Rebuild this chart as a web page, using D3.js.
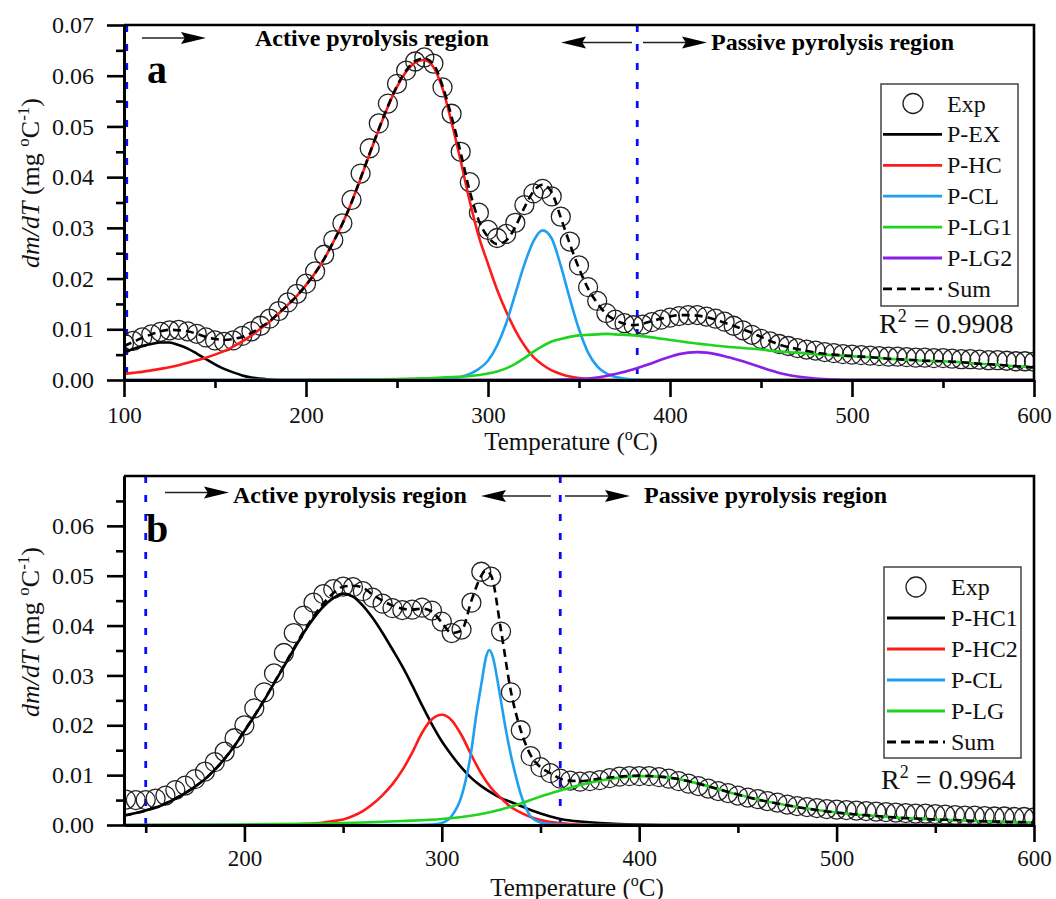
<!DOCTYPE html>
<html><head><meta charset="utf-8">
<script src="https://cdn.jsdelivr.net/npm/d3@7/dist/d3.min.js"></script>
<style>
body{margin:0;background:#fff;}
svg{display:block;font-family:"Liberation Serif","Times New Roman",serif;}
svg text{font-family:"Liberation Serif","Times New Roman",serif;}
</style></head><body>
<svg id="chart" width="1056" height="899"></svg>
<script>
// ---------------- DATA ----------------
const xTicksA = [100, 200, 300, 400, 500, 600];
const xMinorA = [150, 250, 350, 450, 550];
const xTicksB = [200, 300, 400, 500, 600];
const xMinorB = [150, 250, 350, 450, 550];
const yTicksA = [0, 0.01, 0.02, 0.03, 0.04, 0.05, 0.06, 0.07];
const yTicksB = [0, 0.01, 0.02, 0.03, 0.04, 0.05, 0.06];
const yMinor = [0.005, 0.015, 0.025, 0.035, 0.045, 0.055, 0.065];

// Panel a: experimental DTG points [T, dm/dT]
const expA = [[100,.0072],[105,.0077],[110,.0084],[115,.0090],[120,.0095],[125,.0098],[130,.0099],[135,.0096],[140,.0091],[145,.0084],[150,.0078],[155,.0075],[160,.0078],[165,.0087],[170,.0096],[175,.0107],[180,.0121],[185,.0136],[190,.0153],[195,.0170],[200,.0190],[205,.0214],[210,.0247],[215,.0276],[220,.0309],[225,.0355],[230,.0407],[235,.0457],[240,.0506],[245,.0545],[250,.0584],[255,.0610],[260,.0628],[265,.0636],[270,.0624],[275,.0577],[280,.0525],[285,.0450],[290,.0390],[295,.0330],[300,.0296],[305,.0280],[310,.0288],[315,.0310],[320,.0345],[325,.0368],[330,.0377],[335,.0362],[340,.0322],[345,.0273],[350,.0226],[355,.0183],[360,.0156],[365,.0132],[370,.0119],[375,.0112],[380,.0108],[385,.0109],[390,.0114],[395,.0119],[400,.0123],[405,.0126],[410,.0128],[415,.0128],[420,.0125],[425,.0121],[430,.0115],[435,.0107],[440,.0098],[445,.0089],[450,.0081],[455,.0076],[460,.0071],[465,.0067],[470,.0063],[475,.0060],[480,.0058],[485,.0055],[490,.0053],[495,.0051],[500,.0050],[505,.0049],[510,.0048],[515,.0047],[520,.0046],[525,.0046],[530,.0045],[535,.0044],[540,.0044],[545,.0043],[550,.0043],[555,.0042],[560,.0041],[565,.0041],[570,.0040],[575,.0039],[580,.0039],[585,.0038],[590,.0037],[595,.0037],[600,.0036]];
const pexA = [[100,.0055],[105,.0061],[110,.0067],[115,.0071],[120,.0074],[125,.0074],[130,.0069],[135,.0062],[140,.0052],[145,.0041],[150,.0031],[155,.0022],[160,.0015],[165,.0009],[170,.0005],[175,.0003],[180,.0001],[190,0],[300,0],[400,0],[500,0],[600,0]];
const phcA = [[100,.0012],[105,.0014],[110,.0016],[115,.0019],[120,.0022],[125,.0025],[130,.0029],[135,.0034],[140,.0039],[145,.0044],[150,.0050],[155,.0057],[160,.0066],[165,.0076],[170,.0088],[175,.0101],[180,.0115],[185,.0131],[190,.0148],[195,.0166],[200,.0187],[205,.0211],[210,.0239],[215,.0272],[220,.0308],[225,.0350],[230,.0397],[235,.0446],[240,.0494],[245,.0539],[250,.0578],[255,.0608],[260,.0626],[265,.0631],[270,.0617],[275,.0575],[280,.0508],[285,.0432],[290,.0352],[295,.0282],[300,.0229],[305,.0178],[310,.0135],[315,.0098],[320,.0068],[325,.0045],[330,.0030],[335,.0019],[340,.0012],[345,.0007],[350,.0004],[355,.0002],[360,.0001],[370,0],[450,0],[600,0]];
const pclA = [[100,0],[260,0],[270,.0001],[280,.0003],[285,.0006],[290,.0012],[295,.0022],[300,.0038],[305,.0068],[310,.0112],[315,.0170],[320,.0228],[325,.0274],[330,.0295],[335,.0279],[340,.0225],[345,.0160],[350,.0100],[355,.0054],[360,.0027],[365,.0013],[370,.0006],[375,.0003],[380,.0001],[390,0],[500,0],[600,0]];
const plg1A = [[100,0],[200,0],[230,.0001],[250,.0002],[260,.0003],[270,.0004],[280,.0006],[290,.0008],[300,.0013],[305,.0017],[310,.0023],[315,.0032],[320,.0043],[325,.0056],[330,.0067],[335,.0076],[340,.0081],[345,.0085],[350,.0088],[355,.0089],[360,.0090],[365,.0091],[370,.0090],[380,.0088],[390,.0084],[400,.0079],[410,.0074],[420,.0070],[430,.0066],[440,.0063],[450,.0060],[460,.0056],[470,.0054],[480,.0051],[490,.0049],[500,.0047],[510,.0045],[520,.0042],[530,.0040],[540,.0038],[550,.0037],[560,.0035],[570,.0032],[580,.0030],[590,.0027],[600,.0025]];
const plg2A = [[100,0],[330,0],[340,.0001],[350,.0002],[355,.0003],[360,.0005],[365,.0008],[370,.0012],[375,.0016],[380,.0021],[385,.0027],[390,.0033],[395,.0040],[400,.0046],[405,.0051],[410,.0054],[415,.0055],[420,.0054],[425,.0051],[430,.0047],[435,.0042],[440,.0037],[445,.0031],[450,.0025],[455,.0019],[460,.0014],[465,.0010],[470,.0007],[480,.0003],[490,.0001],[500,0],[600,0]];
const sumA = [[100,.0067],[105,.0075],[110,.0083],[115,.0090],[120,.0096],[125,.0099],[130,.0098],[135,.0096],[140,.0091],[145,.0085],[150,.0081],[155,.0079],[160,.0081],[165,.0085],[170,.0093],[175,.0104],[180,.0116],[185,.0132],[190,.0148],[195,.0166],[200,.0187],[205,.0211],[210,.0239],[215,.0272],[220,.0308],[225,.0350],[230,.0398],[235,.0447],[240,.0495],[245,.0540],[250,.0580],[255,.0610],[260,.0629],[265,.0634],[270,.0623],[275,.0580],[280,.0519],[285,.0448],[290,.0372],[295,.0314],[300,.0282],[305,.0268],[310,.0275],[315,.0302],[320,.0340],[325,.0372],[330,.0385],[335,.0370],[340,.0320],[345,.0268],[350,.0220],[355,.0180],[360,.0152],[365,.0130],[370,.0118],[375,.0111],[380,.0108],[385,.0111],[390,.0116],[395,.0121],[400,.0125],[405,.0128],[410,.0128],[415,.0127],[420,.0124],[425,.0119],[430,.0113],[435,.0107],[440,.0100],[445,.0093],[450,.0085],[455,.0077],[460,.0070],[465,.0065],[470,.0061],[480,.0054],[490,.0050],[500,.0047],[510,.0045],[520,.0042],[530,.0040],[540,.0038],[550,.0037],[560,.0035],[570,.0032],[580,.0030],[590,.0027],[600,.0025]];

// Panel b
const expB = [[140,.0051],[145,.0050],[150,.0050],[155,.0053],[160,.0059],[165,.0070],[170,.0079],[175,.0092],[180,.0107],[185,.0126],[190,.0147],[195,.0174],[200,.0200],[205,.0234],[210,.0266],[215,.0304],[220,.0345],[225,.0385],[230,.0420],[235,.0446],[240,.0463],[245,.0473],[250,.0478],[255,.0477],[260,.0469],[265,.0456],[270,.0444],[275,.0435],[280,.0431],[285,.0432],[290,.0436],[295,.0430],[300,.0408],[305,.0385],[310,.0392],[315,.0446],[320,.0508],[325,.0498],[330,.0388],[335,.0266],[340,.0190],[345,.0138],[350,.0116],[355,.0104],[360,.0093],[365,.0089],[370,.0087],[375,.0088],[380,.0090],[385,.0094],[390,.0097],[395,.0098],[400,.0098],[405,.0098],[410,.0096],[415,.0093],[420,.0088],[425,.0083],[430,.0078],[435,.0073],[440,.0068],[445,.0064],[450,.0059],[455,.0055],[460,.0052],[465,.0048],[470,.0045],[475,.0041],[480,.0038],[485,.0036],[490,.0034],[495,.0032],[500,.0031],[505,.0030],[510,.0029],[515,.0028],[520,.0027],[525,.0026],[530,.0025],[535,.0024],[540,.0023],[545,.0023],[550,.0022],[555,.0021],[560,.0020],[565,.0019],[570,.0019],[575,.0018],[580,.0017],[585,.0017],[590,.0016],[595,.0016],[600,.0015]];
const phc1B = [[139,.0019],[145,.0024],[150,.0029],[155,.0035],[160,.0043],[165,.0053],[170,.0064],[175,.0077],[180,.0092],[185,.0111],[190,.0133],[195,.0159],[200,.0188],[205,.0218],[210,.0250],[215,.0284],[220,.0318],[225,.0352],[230,.0385],[235,.0414],[240,.0438],[245,.0455],[250,.0464],[255,.0458],[260,.0440],[265,.0415],[270,.0385],[275,.0352],[280,.0318],[285,.0280],[290,.0240],[295,.0202],[300,.0168],[305,.0140],[310,.0115],[315,.0094],[320,.0078],[325,.0065],[330,.0054],[335,.0046],[340,.0038],[345,.0030],[350,.0023],[355,.0017],[360,.0012],[365,.0009],[370,.0007],[380,.0004],[390,.0002],[400,.0001],[420,0],[500,0],[600,0]];
const phc2B = [[139,0],[200,0],[220,.0001],[230,.0002],[240,.0005],[245,.0008],[250,.0011],[255,.0018],[260,.0028],[265,.0042],[270,.0060],[275,.0082],[280,.0110],[285,.0145],[290,.0185],[295,.0212],[300,.0221],[305,.0210],[310,.0180],[315,.0140],[320,.0103],[325,.0074],[330,.0054],[335,.0036],[340,.0025],[345,.0016],[350,.0010],[355,.0006],[360,.0004],[365,.0002],[370,.0001],[380,0],[500,0],[600,0]];
const pclB = [[139,0],[280,0],[295,.0001],[300,.0004],[305,.0018],[310,.0058],[315,.0150],[317.5,.0222],[320,.0282],[322.5,.0338],[324,.0351],[326,.0335],[328,.0295],[330,.0248],[332.5,.0190],[335,.0140],[337.5,.0098],[340,.0062],[342.5,.0035],[345,.0017],[350,.0005],[355,.0002],[360,.0001],[370,0],[500,0],[600,0]];
const plgB = [[139,0],[200,.0001],[240,.0003],[260,.0005],[280,.0008],[300,.0012],[310,.0016],[320,.0022],[330,.0031],[340,.0043],[350,.0057],[360,.0069],[370,.0080],[380,.0089],[390,.0095],[400,.0098],[410,.0097],[420,.0092],[430,.0083],[440,.0072],[450,.0061],[460,.0051],[470,.0043],[480,.0036],[490,.0030],[500,.0025],[510,.0021],[520,.0018],[530,.0015],[540,.0013],[550,.0011],[560,.0010],[570,.0008],[580,.0007],[590,.0006],[600,.0005]];
const sumB = [[139,.0019],[145,.0024],[150,.0029],[155,.0035],[160,.0043],[165,.0053],[170,.0064],[175,.0077],[180,.0092],[185,.0111],[190,.0133],[195,.0159],[200,.0189],[205,.0219],[210,.0251],[215,.0285],[220,.0319],[225,.0354],[230,.0388],[235,.0418],[240,.0444],[245,.0465],[250,.0478],[255,.0480],[260,.0476],[265,.0462],[270,.0450],[275,.0440],[280,.0434],[285,.0432],[290,.0434],[295,.0428],[300,.0406],[305,.0385],[310,.0390],[315,.0450],[320,.0500],[322,.0510],[325,.0500],[330,.0390],[335,.0268],[340,.0190],[345,.0140],[350,.0116],[355,.0104],[360,.0093],[365,.0089],[370,.0088],[375,.0090],[380,.0093],[390,.0097],[400,.0099],[410,.0097],[420,.0092],[430,.0083],[440,.0072],[450,.0061],[460,.0051],[470,.0043],[480,.0036],[490,.0030],[500,.0025],[510,.0021],[520,.0018],[530,.0015],[540,.0013],[550,.0011],[560,.0010],[570,.0008],[580,.0007],[590,.0006],[600,.0005]];

const legendA = ["Exp", "P-EX", "P-HC", "P-CL", "P-LG1", "P-LG2", "Sum"];
const legendB = ["Exp", "P-HC1", "P-HC2", "P-CL", "P-LG", "Sum"];
const regionLinesA = [101.5, 382];
const regionLinesB = [150, 360];
const r2A = "0.9908";
const r2B = "0.9964";

// ---------------- STYLE ----------------
const FONT = '"Liberation Serif", "Times New Roman", serif';
const COL = {black:"#000000", red:"#ff1a1a", blue:"#1e9ff2", green:"#1fd41f", purple:"#8a1fe6"};
const svg = d3.select("#chart");
const defs = svg.append("defs");

function arrow(g, x1, x2, y) {
  const dir = x2 > x1 ? 1 : -1;
  const hl = 25, hw = 6;
  g.append("line").attr("x1", x1).attr("x2", x2 - dir*hl*0.6).attr("y1", y).attr("y2", y)
    .attr("stroke", "#222").attr("stroke-width", 1.3);
  g.append("path").attr("d", `M${x2},${y} L${x2 - dir*hl},${y-hw} L${x2 - dir*hl*0.85},${y} L${x2 - dir*hl},${y+hw} Z`)
    .attr("fill", "#000");
}

function drawPanel(P) {
  const g = svg.append("g").attr("font-family", FONT);
  const x = d3.scaleLinear().domain(P.xd).range([124, 1034]);
  const y = d3.scaleLinear().domain([0, 0.07]).range([P.y0, P.y1]);
  const clipId = "clip" + P.id;
  defs.append("clipPath").attr("id", clipId).append("rect")
    .attr("x", 124).attr("y", P.y1).attr("width", 910).attr("height", P.y0 - P.y1);

  const plot = g.append("g").attr("clip-path", `url(#${clipId})`);
  P.region.forEach(t => {
    plot.append("line").attr("x1", x(t)).attr("x2", x(t)).attr("y1", P.y1).attr("y2", P.y0)
      .attr("stroke", "#0a0aff").attr("stroke-width", 2.8).attr("stroke-dasharray", "7,12");
  });
  plot.append("g").selectAll("circle").data(P.exp).join("circle")
    .attr("cx", d => x(d[0])).attr("cy", d => y(d[1])).attr("r", 9.5)
    .attr("fill", "none").attr("stroke", "#222").attr("stroke-width", 1.3);
  const line = d3.line().x(d => x(d[0])).y(d => y(d[1])).curve(d3.curveMonotoneX);
  P.series.forEach(s => {
    plot.append("path").attr("d", line(s.data)).attr("fill", "none")
      .attr("stroke", s.color).attr("stroke-width", 2.6)
      .attr("stroke-dasharray", s.dash || null);
  });

  // axes
  const axX = g.append("g").attr("transform", `translate(0,${P.y0})`);
  axX.call(d3.axisBottom(x).tickValues(P.xt).tickFormat(d3.format("d")).tickSize(17).tickSizeOuter(0).tickPadding(P.xPad));
  const axXm = g.append("g").attr("transform", `translate(0,${P.y0})`);
  axXm.call(d3.axisBottom(x).tickValues(P.xm).tickFormat("").tickSize(8).tickSizeOuter(0));
  const axY = g.append("g").attr("transform", `translate(124,0)`);
  axY.call(d3.axisLeft(y).tickValues(P.yt).tickFormat(d3.format(".2f")).tickSize(17).tickSizeOuter(0).tickPadding(13));
  const axYm = g.append("g").attr("transform", `translate(124,0)`);
  axYm.call(d3.axisLeft(y).tickValues(yMinor).tickFormat("").tickSize(8).tickSizeOuter(0));
  [axX, axXm, axY, axYm].forEach(a => {
    a.attr("font-family", FONT);
    a.selectAll("path.domain").attr("stroke", "#000").attr("stroke-width", 3);
    a.selectAll(".tick line").attr("stroke", "#000").attr("stroke-width", 2.6);
    a.selectAll(".tick text").attr("fill", "#111").attr("font-family", FONT);
  });
  axX.attr("font-size", 23);
  axY.attr("font-size", 24);
  g.append("path").attr("d", `M124,${P.y1} H1034 V${P.y0}`).attr("fill", "none")
    .attr("stroke", "#000").attr("stroke-width", 2.6);

  // axis titles
  const xt = g.append("text").attr("x", P.xTitleX).attr("y", P.y0 + P.xTitleDy).attr("text-anchor", "middle")
    .attr("font-size", 25).attr("fill", "#111");
  xt.append("tspan").text("Temperature (");
  xt.append("tspan").text("o").attr("dy", -10).attr("font-size", 16);
  xt.append("tspan").text("C)").attr("dy", 10);

  const yt = g.append("text").attr("transform", `translate(38.5,${P.yTitleY}) rotate(-90)`)
    .attr("text-anchor", "middle").attr("font-size", 26).attr("fill", "#111");
  yt.append("tspan").text("dm/dT").attr("font-style", "italic");
  yt.append("tspan").text(" (mg ");
  yt.append("tspan").text("o").attr("dy", -10).attr("font-size", 17);
  yt.append("tspan").text("C").attr("dy", 10);
  yt.append("tspan").text("-1").attr("dy", -10).attr("font-size", 17);
  yt.append("tspan").text(")").attr("dy", 10);

  g.append("text").attr("x", P.letterX).attr("y", P.letterY).text(P.letter)
    .attr("font-size", 40).attr("font-weight", "bold").attr("fill", "#000");

  arrow(g, P.ann.a1[0], P.ann.a1[1], P.ann.a1[2]);
  g.append("text").attr("x", P.ann.t1[0]).attr("y", P.ann.t1[1]).text("Active pyrolysis region")
    .attr("font-size", 24).attr("font-weight", "bold").attr("fill", "#000");
  arrow(g, P.ann.a2[0], P.ann.a2[1], P.ann.a2[2]);
  arrow(g, P.ann.a3[0], P.ann.a3[1], P.ann.a3[2]);
  g.append("text").attr("x", P.ann.t2[0]).attr("y", P.ann.t2[1]).text("Passive pyrolysis region")
    .attr("font-size", 24).attr("font-weight", "bold").attr("fill", "#000");

  const L = P.legend;
  g.append("rect").attr("x", L.x0).attr("y", L.y0).attr("width", L.x1 - L.x0).attr("height", L.y1 - L.y0)
    .attr("fill", "#fff").attr("stroke", "#444").attr("stroke-width", 1.5);
  L.labels.forEach((lab, i) => {
    const cy = L.rowY + i * L.dy;
    if (i === 0) {
      g.append("circle").attr("cx", L.cx).attr("cy", cy).attr("r", 10).attr("fill", "none")
        .attr("stroke", "#222").attr("stroke-width", 1.3);
    } else {
      const s = P.series[i - 1];
      g.append("line").attr("x1", L.lx0).attr("x2", L.lx1).attr("y1", cy).attr("y2", cy)
        .attr("stroke", s.color).attr("stroke-width", 2.8).attr("stroke-dasharray", s.dash ? "9,5" : null);
    }
    g.append("text").attr("x", L.tx).attr("y", cy + 8).text(lab)
      .attr("font-size", 24).attr("fill", "#111");
  });
  const r2 = g.append("text").attr("x", L.r2x).attr("y", L.r2y).attr("font-size", 28).attr("fill", "#111");
  r2.append("tspan").text("R");
  r2.append("tspan").text("2").attr("dy", -11).attr("font-size", 18);
  r2.append("tspan").text(" = " + P.r2).attr("dy", 11);
}

drawPanel({
  id: "A", xd: [100, 600], y0: 380, y1: 25, xt: xTicksA, xm: xMinorA, yt: yTicksA,
  exp: expA, region: regionLinesA, r2: r2A, letter: "a", letterX: 147, letterY: 83,
  xTitleX: 571, yTitleY: 183, xPad: 10, xTitleDy: 69.5,
  series: [
    {data: pexA, color: COL.black}, {data: phcA, color: COL.red}, {data: pclA, color: COL.blue},
    {data: plg1A, color: COL.green}, {data: plg2A, color: COL.purple}, {data: sumA, color: "#000", dash: "8,5"}
  ],
  ann: {a1: [142, 206, 38], t1: [255, 46], a2: [632, 561, 42.5], a3: [643, 707, 42.5], t2: [711, 50]},
  legend: {labels: legendA, x0: 881, x1: 1018, y0: 84, y1: 306, rowY: 103.5, dy: 30.9,
    cx: 913, lx0: 883, lx1: 942, tx: 947, r2x: 879, r2y: 333}
});

drawPanel({
  id: "B", xd: [139, 600], y0: 825, y1: 476, xt: xTicksB, xm: xMinorB, yt: yTicksB,
  exp: expB, region: regionLinesB, r2: r2B, letter: "b", letterX: 146, letterY: 542,
  xTitleX: 577, yTitleY: 632, xPad: 8, xTitleDy: 70.5,
  series: [
    {data: phc1B, color: COL.black}, {data: phc2B, color: COL.red}, {data: pclB, color: COL.blue},
    {data: plgB, color: COL.green}, {data: sumB, color: "#000", dash: "8,5"}
  ],
  ann: {a1: [165, 229, 492.5], t1: [233, 503], a2: [551, 481, 496], a3: [565, 630, 496], t2: [644, 503]},
  legend: {labels: legendB, x0: 884, x1: 1021, y0: 567, y1: 758, rowY: 587, dy: 31,
    cx: 916, lx0: 887, lx1: 945, tx: 951, r2x: 881, r2y: 789}
});
</script>
</body></html>
